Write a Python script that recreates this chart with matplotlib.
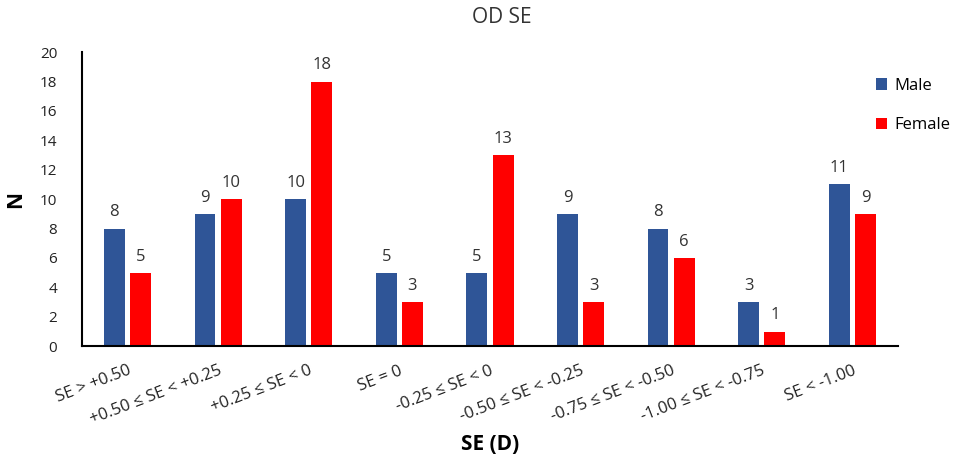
import matplotlib.pyplot as plt
import numpy as np

plt.rcParams['font.family'] = ['Open Sans', 'DejaVu Sans']

categories = ['SE > +0.50', '+0.50 ≤ SE < +0.25', '+0.25 ≤ SE < 0', 'SE = 0',
              '-0.25 ≤ SE < 0', '-0.50 ≤ SE < -0.25', '-0.75 ≤ SE < -0.50',
              '-1.00 ≤ SE < -0.75', 'SE < -1.00']
male = [8, 9, 10, 5, 5, 9, 8, 3, 11]
female = [5, 10, 18, 3, 13, 3, 6, 1, 9]

fig = plt.figure(figsize=(9.56, 4.61), dpi=100)
ax = fig.add_axes([0.086, 0.249, 0.853, 0.638])

x = np.arange(len(categories))
w = 0.23
b1 = ax.bar(x - 0.145, male, w, color='#2F5597', label='Male')
b2 = ax.bar(x + 0.145, female, w, color='#FF0000', label='Female')

# 柱顶数值
for bars in (b1, b2):
    for r in bars:
        ax.text(r.get_x() + r.get_width() / 2, r.get_height() + 0.55, f'{int(r.get_height())}',
                ha='center', va='bottom', fontsize=12, color='#333333')

ax.set_xlim(-0.5, len(categories) - 0.5)
ax.set_ylim(0, 20)
ax.set_yticks(range(0, 21, 2))
ax.set_xticks(x)
ax.set_xticklabels(categories, rotation=21, ha='right', rotation_mode='anchor', fontsize=12)
ax.tick_params(axis='both', length=0, colors='#222222')
ax.tick_params(axis='y', labelsize=11, pad=18)
ax.tick_params(axis='x', pad=12)

for s in ['top', 'right']:
    ax.spines[s].set_visible(False)
for s in ['left', 'bottom']:
    ax.spines[s].set_linewidth(1.5)

ax.set_ylabel('N', fontsize=15, fontweight='bold', labelpad=10)
ax.set_xlabel('SE (D)', fontsize=15, fontweight='bold', labelpad=4)
fig.text(0.525, 0.962, 'OD SE', ha='center', va='center', fontsize=15, color='#333333')

ax.legend(loc='upper left', bbox_to_anchor=(0.965, 0.935), frameon=False, fontsize=12,
          handlelength=0.7, handleheight=0.7, labelspacing=1.4, handletextpad=0.4,
          borderaxespad=0)

fig.savefig('out.png', dpi=100)
